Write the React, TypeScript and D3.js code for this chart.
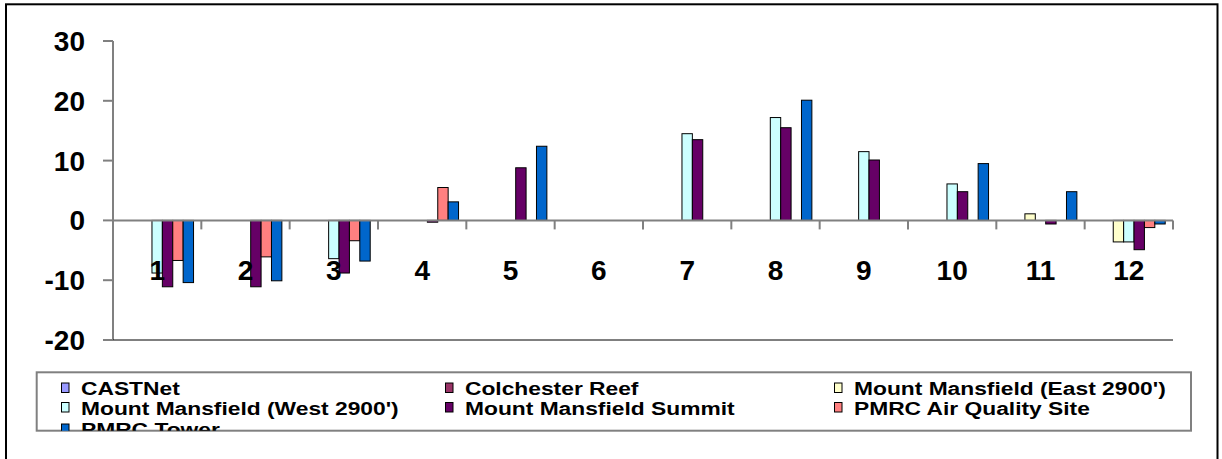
import React from "react";
import * as d3 from "d3";

const categories = ["1", "2", "3", "4", "5", "6", "7", "8", "9", "10", "11", "12"];
const seriesNames = [
  "CASTNet",
  "Colchester Reef",
  "Mount Mansfield (East 2900')",
  "Mount Mansfield (West 2900')",
  "Mount Mansfield Summit",
  "PMRC Air Quality Site",
  "PMRC Tower",
];
const seriesColors = ["#9999FF", "#993366", "#FFFFCC", "#CCFFFF", "#660066", "#FF8080", "#0066CC"];

const castnet: (number | null)[] = [null, null, null, null, null, null, null, null, null, null, null, null];
const colchester: (number | null)[] = [null, null, null, null, null, null, null, null, null, null, null, null];
const mmEast: (number | null)[] = [null, null, null, null, null, null, null, null, null, null, 1.1, -3.6];
const mmWest: (number | null)[] = [-8.8, null, -6.4, null, null, null, 14.5, 17.2, 11.5, 6.1, null, -3.6];
const mmSummit: (number | null)[] = [-11.1, -11.1, -8.8, -0.3, 8.8, null, 13.5, 15.5, 10.1, 4.8, -0.6, -4.9];
const pmrcAir: (number | null)[] = [-6.7, -6.1, -3.4, 5.5, null, null, null, null, null, null, null, -1.2];
const pmrcTower: (number | null)[] = [-10.4, -10.1, -6.8, 3.1, 12.4, null, null, 20.1, null, 9.5, 4.8, -0.6];

const seriesValues = [castnet, colchester, mmEast, mmWest, mmSummit, pmrcAir, pmrcTower];
const yTicks = [-20, -10, 0, 10, 20, 30];

export default function App() {
  const W = 1222;
  const H = 459;
  const x = d3.scaleBand<string>().domain(categories).range([113, 1173]).paddingInner(0).paddingOuter(0);
  const cw = x.bandwidth();
  const gapFrac = 0.75 / 8.5;
  const xi = d3.scaleBand<string>().domain(seriesNames).range([cw * gapFrac, cw * (1 - gapFrac)]).padding(0);
  const y = d3.scaleLinear().domain([-20, 30]).range([340, 41]);
  const y0 = y(0);
  const font = "'Liberation Sans', Arial, sans-serif";

  const legendCols = [81, 465, 854];
  const legendRows = [395, 414.5, 436];

  return (
    <div style={{ position: "absolute", left: 0, top: 0 }}>
      <svg width={W} height={H} style={{ display: "block" }}>
        <rect x={0} y={0} width={W} height={H} fill="#fff" />
        <rect x={6} y={4.3} width={1211.5} height={500} fill="none" stroke="#000" strokeWidth={2} />
        {seriesValues.map((vals, si) =>
          vals.map((v, ci) => {
            if (v === null) return null;
            const bx = (x(categories[ci]) as number) + (xi(seriesNames[si]) as number);
            const top = y(Math.max(v, 0));
            const bot = y(Math.min(v, 0));
            return (
              <rect
                key={`b${si}-${ci}`}
                x={bx}
                y={top}
                width={xi.bandwidth()}
                height={Math.max(bot - top, 1)}
                fill={seriesColors[si]}
                stroke="#000"
                strokeWidth={1}
              />
            );
          })
        )}
        <line x1={113} x2={113} y1={y(30)} y2={y(-20)} stroke="#808080" strokeWidth={2} />
        {yTicks.map((t) => (
          <g key={`yt${t}`}>
            <line x1={103} x2={113} y1={y(t)} y2={y(t)} stroke="#808080" strokeWidth={2} />
            <text
              x={85}
              y={y(t) + 10}
              textAnchor="end"
              fontFamily={font}
              fontWeight="bold"
              fontSize={28}
              fill="#000"
            >
              {t}
            </text>
          </g>
        ))}
        <line x1={113} x2={1173} y1={y(-20)} y2={y(-20)} stroke="#000" strokeWidth={1} />
        <line x1={113} x2={1173} y1={y0} y2={y0} stroke="#808080" strokeWidth={2} />
        {categories.map((c) => (
          <line
            key={`xt${c}`}
            x1={(x(c) as number) + cw}
            x2={(x(c) as number) + cw}
            y1={y0}
            y2={y0 + 9}
            stroke="#808080"
            strokeWidth={2}
          />
        ))}
        {categories.map((c) => (
          <text
            key={`xl${c}`}
            x={(x(c) as number) + cw / 2}
            y={279.5}
            textAnchor="middle"
            fontFamily={font}
            fontWeight="bold"
            fontSize={28}
            fill="#000"
          >
            {c}
          </text>
        ))}
        <defs>
          <clipPath id="legclip">
            <rect x={36.7} y={372.3} width={1154.3} height={58.4} />
          </clipPath>
        </defs>
        <rect x={36.7} y={372.3} width={1154.3} height={58.4} fill="#fff" stroke="#808080" strokeWidth={2} />
        <g clipPath="url(#legclip)">
          {seriesNames.map((name, i) => {
            const col = i % 3;
            const row = Math.floor(i / 3);
            const tx = legendCols[col];
            const ty = legendRows[row];
            return (
              <g key={`lg${i}`}>
                <rect
                  x={tx - 19.5}
                  y={ty - 12}
                  width={7.5}
                  height={9.5}
                  fill={seriesColors[i]}
                  stroke="#000"
                  strokeWidth={1}
                />
                <text
                  transform={`translate(${tx},${ty}) scale(1.2,1)`}
                  fontFamily={font}
                  fontWeight="bold"
                  fontSize={19}
                  fill="#000"
                >
                  {name}
                </text>
              </g>
            );
          })}
        </g>
      </svg>
    </div>
  );
}
